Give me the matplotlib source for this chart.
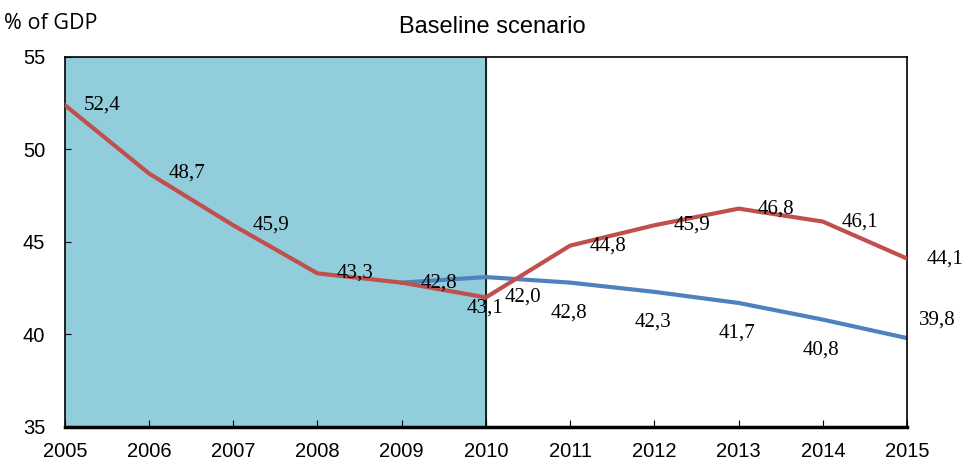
import matplotlib.pyplot as plt

years = list(range(2005, 2016))
red_vals = [52.4, 48.7, 45.9, 43.3, 42.8, 42.0, 44.8, 45.9, 46.8, 46.1, 44.1]
blue_years = list(range(2009, 2016))
blue_vals = [42.8, 43.1, 42.8, 42.3, 41.7, 40.8, 39.8]
blue_labels = [None, "43,1", "42,8", "42,3", "41,7", "40,8", "39,8"]

fig = plt.figure(figsize=(9.67, 4.63), dpi=100)
ax = fig.add_axes([0.067, 0.078, 0.871, 0.799])

ax.axvspan(2005, 2010, color="#92CDDC", zorder=0)
ax.axvline(2010, color="black", lw=1.2, zorder=1)

ax.plot(blue_years, blue_vals, color="#4F81BD", lw=3, zorder=2)
ax.plot(years, red_vals, color="#C0504D", lw=3, zorder=3)

lab_font = dict(family="Liberation Serif", fontsize=15)
for x, v in zip(years, red_vals):
    ax.annotate(f"{v:.1f}".replace(".", ","), (x, v), xytext=(27, 0),
                textcoords="offset points", ha="center", va="center", **lab_font)
for x, v, t in zip(blue_years, blue_vals, blue_labels):
    if t is None:
        continue
    off = (22, 13) if x == 2015 else (-1, -22)
    ax.annotate(t, (x, v), xytext=off, textcoords="offset points",
                ha="center", va="center", **lab_font)

ax.set_xlim(2005, 2015)
ax.set_ylim(35, 55)
ax.set_xticks(years)
ax.set_yticks([35, 40, 45, 50, 55])
ax.tick_params(axis="x", direction="in", length=5, pad=11, labelsize=14.5)
ax.tick_params(axis="y", direction="in", length=4, pad=14, labelsize=14.5)
for lab in ax.get_xticklabels() + ax.get_yticklabels():
    lab.set_family("Liberation Sans")
for s in ax.spines.values():
    s.set_linewidth(1.2)
ax.spines["bottom"].set_linewidth(2.5)

fig.text(0.509, 0.942, "Baseline scenario", ha="center", va="center",
         family="Liberation Sans", fontsize=17)
fig.text(0.004, 0.95, "% of GDP", ha="left", va="center",
         family="Open Sans", fontsize=15.5)

fig.savefig("out.png", dpi=100)
